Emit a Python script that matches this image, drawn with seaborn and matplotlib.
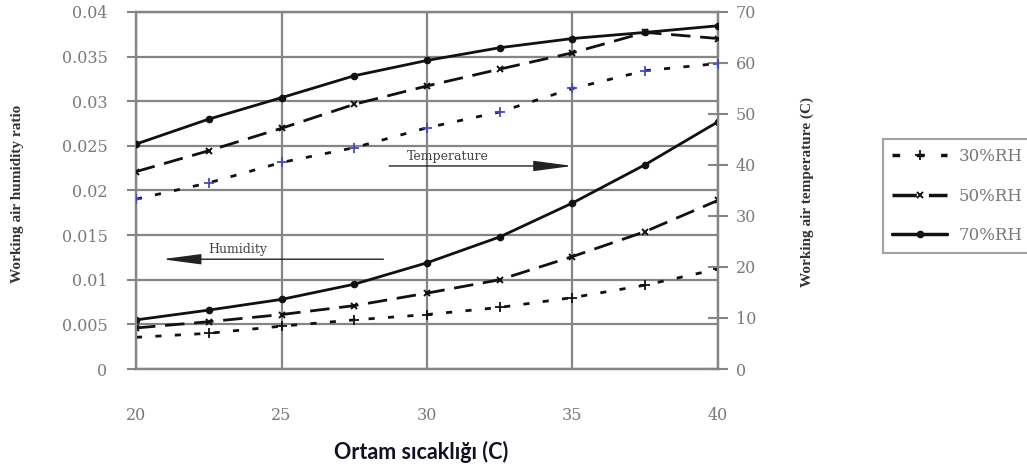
import numpy as np
import pandas as pd
import matplotlib
matplotlib.use('Agg')
import matplotlib.pyplot as plt
import seaborn as sns
from matplotlib.lines import Line2D

# ---------------- data ----------------
ambient_temp = [20, 22.5, 25, 27.5, 30, 32.5, 35, 37.5, 40]
series_labels = ['30%RH', '50%RH', '70%RH']

humidity_30 = [0.00355, 0.0040, 0.0048, 0.0055, 0.0061, 0.0069, 0.0080, 0.0094, 0.0112]
humidity_50 = [0.0046, 0.0053, 0.0061, 0.0071, 0.0085, 0.0100, 0.0126, 0.0154, 0.0189]
humidity_70 = [0.0055, 0.0066, 0.0078, 0.0095, 0.0119, 0.0148, 0.0186, 0.0229, 0.0277]

temp_30 = [33.3, 36.5, 40.5, 43.4, 47.3, 50.4, 55.0, 58.5, 59.9]
temp_50 = [38.7, 42.8, 47.2, 51.9, 55.5, 58.8, 62.0, 66.0, 64.8]
temp_70 = [44.1, 49.0, 53.2, 57.5, 60.5, 63.0, 64.8, 66.0, 67.3]

x_ticks = [20, 25, 30, 35, 40]
left_ticks = [0, 0.005, 0.01, 0.015, 0.02, 0.025, 0.03, 0.035, 0.04]
left_tick_labels = ['0', '0.005', '0.01', '0.015', '0.02', '0.025', '0.03', '0.035', '0.04']
right_ticks = [0, 10, 20, 30, 40, 50, 60, 70]

x_label = 'Ortam sıcaklığı (C)'
left_label = 'Working air humidity ratio'
right_label = 'Working air temperature (C)'
temp_note = 'Temperature'
hum_note = 'Humidity'

# ---------------- style ----------------
sns.set_style('white')
plt.rcParams['font.family'] = ['DejaVu Serif', 'DejaVu Sans']

W, H = 1027, 470
fig = plt.figure(figsize=(W / 100, H / 100), dpi=100)
ax = fig.add_axes([136 / W, 1 - 369 / H, (718 - 136) / W, (369 - 12) / H])
ax2 = ax.twinx()

grid_c = '#858585'
line_c = '#111111'
tick_c = '#7a7a7a'

styles = {
    '30%RH': dict(linestyle=(0, (2.2, 4.8)), marker='+', ms=7, mew=1.3),
    '50%RH': dict(linestyle=(0, (7, 3.5)), marker='x', ms=5, mew=1.4),
    '70%RH': dict(linestyle='-', marker='o', ms=5.5, mew=0),
}

hum_series = dict(zip(series_labels, [humidity_30, humidity_50, humidity_70]))
temp_series = dict(zip(series_labels, [temp_30, temp_50, temp_70]))

for lab in series_labels:
    st = styles[lab]
    sns.lineplot(x=ambient_temp, y=hum_series[lab], ax=ax, color=line_c, lw=2,
                 linestyle=st['linestyle'], marker=st['marker'], ms=st['ms'],
                 mew=st['mew'], mec=line_c, mfc=line_c, legend=False, zorder=3)
    mec2 = '#4a4ac0' if lab == '30%RH' else line_c
    sns.lineplot(x=ambient_temp, y=temp_series[lab], ax=ax2, color=line_c, lw=2,
                 linestyle=st['linestyle'], marker=st['marker'], ms=st['ms'],
                 mew=st['mew'], mec=mec2, mfc=mec2, legend=False, zorder=3)

# axes limits & ticks
ax.set_xlim(20, 40)
ax.set_ylim(0, 0.04)
ax2.set_ylim(0, 70)
ax.set_xticks(x_ticks)
ax.set_xticklabels([str(v) for v in x_ticks])
ax.set_yticks(left_ticks)
ax.set_yticklabels(left_tick_labels)
ax2.set_yticks(right_ticks)
ax2.set_yticklabels([str(v) for v in right_ticks])

ax.grid(True, color=grid_c, lw=1.6, zorder=0)
ax2.grid(False)
ax.set_axisbelow(True)
for a in (ax, ax2):
    for s in a.spines.values():
        s.set_color(grid_c)
        s.set_linewidth(1.6)

ax.tick_params(axis='x', direction='out', length=6, width=1.5, color=grid_c,
               pad=21, labelsize=11.5, labelcolor=tick_c)
ax.tick_params(axis='y', direction='out', length=6.5, width=1.5, color=grid_c,
               pad=14, labelsize=11.5, labelcolor=tick_c, left=True)
ax2.tick_params(axis='y', direction='inout', length=14, width=1.5, color=grid_c,
                pad=6, labelsize=11.5, labelcolor=tick_c, right=True)
ax.set_xlabel('')
ax.set_ylabel('')
ax2.set_ylabel('')

# annotations (arrows)
ax.annotate('', xy=(35, 0.02275), xytext=(28.7, 0.02275),
            arrowprops=dict(arrowstyle='-|>,head_length=2.4,head_width=0.32',
                            color='#222222', lw=1.0, shrinkA=0, shrinkB=0), zorder=4)
ax.text(29.3, 0.0231, temp_note, fontsize=9, color='#444444', family='DejaVu Serif',
        va='bottom', ha='left')
ax.annotate('', xy=(20.9, 0.0123), xytext=(28.5, 0.0123),
            arrowprops=dict(arrowstyle='-|>,head_length=2.4,head_width=0.32',
                            color='#222222', lw=1.0, shrinkA=0, shrinkB=0), zorder=4)
ax.text(22.5, 0.0127, hum_note, fontsize=9, color='#444444', family='DejaVu Serif',
        va='bottom', ha='left')

# axis titles
fig.text(18 / W, 1 - 194 / H, left_label, rotation=90, ha='center', va='center',
         fontsize=11, fontweight='bold', color='#333333', family='Liberation Serif')
fig.text(807 / W, 1 - 192 / H, right_label, rotation=90, ha='center', va='center',
         fontsize=11, fontweight='bold', color='#333333', family='Liberation Serif')
fig.text(421 / W, 1 - 452 / H, x_label, ha='center', va='center',
         fontsize=15.5, fontweight='bold', color='#111122', family=['Lato', 'DejaVu Sans'])

# legend
handles = []
for lab in series_labels:
    st = styles[lab]
    handles.append(Line2D([0], [0], color=line_c, lw=2.5, linestyle=st['linestyle'],
                          marker=st['marker'], ms=st['ms'], mew=st['mew'],
                          mec=line_c, mfc=line_c))
leg = fig.legend(handles, series_labels, loc='upper left',
                 bbox_to_anchor=(883 / W, 1 - 139 / H), frameon=True, fancybox=False,
                 handlelength=3.3, handletextpad=0.7, labelspacing=1.35,
                 borderpad=0.55, borderaxespad=0, prop=dict(family='DejaVu Serif', size=12),
                 labelcolor='#777777')
leg.get_frame().set_edgecolor('#8c8c8c')
leg.get_frame().set_linewidth(1.5)

fig.savefig('out.png', dpi=100)
